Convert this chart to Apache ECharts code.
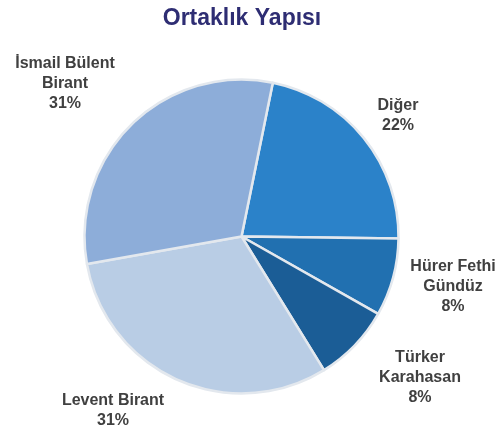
<!DOCTYPE html>
<html>
<head>
<meta charset="utf-8">
<title>Ortaklık Yapısı</title>
<script src="https://cdn.jsdelivr.net/npm/echarts@6/dist/echarts.min.js"></script>
<style>
html,body{margin:0;padding:0;background:#fff;}
#main{width:504px;height:433px;}
</style>
</head>
<body>
<div id="main"></div>
<script>
// veriler - saat yönünde, üstten başlayarak
var names = ['Diğer', 'Hürer Fethi\nGündüz', 'Türker\nKarahasan', 'Levent Birant', 'İsmail Bülent\nBirant'];
var values = [22, 8, 8, 31, 31];
var colors = ['#2b82c9', '#2170b0', '#1b5d96', '#b9cde5', '#8dadd9'];
// etiket merkezleri (piksel)
var labelPos = [[398, 116], [453, 287], [420, 378], [113, 411], [65, 84]];

var myChart = echarts.init(document.getElementById('main'));

var data = [];
for (var i = 0; i < names.length; i++) {
	data.push({ name: names[i], value: values[i], itemStyle: { color: colors[i] } });
}

var option = {
	animation: false,
	title: {
		text: 'Ortaklık Yapısı',
		left: 237,
		top: 2,
		textAlign: 'center',
		textStyle: {
			fontFamily: 'Liberation Sans, Arial, sans-serif',
			fontSize: 23,
			fontWeight: 'bold',
			color: '#2e2d73'
		}
	},
	series: [{
		type: 'pie',
		center: [241.5, 236.5],
		radius: [0, 157],
		startAngle: 78.5,
		clockwise: true,
		data: data,
		itemStyle: {
			borderColor: '#e3e8ee',
			borderWidth: 2.5
		},
		emphasis: { disabled: true },
		labelLine: { show: false },
		label: {
			show: true,
			position: 'outside',
			formatter: '{b}\n{c}%',
			fontFamily: 'Liberation Sans, Arial, sans-serif',
			fontSize: 16,
			fontWeight: 'bold',
			lineHeight: 20,
			color: '#404040',
			align: 'center',
			overflow: 'none'
		},
		labelLayout: function (params) {
			var p = labelPos[params.dataIndex];
			return { x: p[0], y: p[1], align: 'center', verticalAlign: 'middle' };
		}
	}]
};
myChart.setOption(option);
</script>
</body>
</html>
